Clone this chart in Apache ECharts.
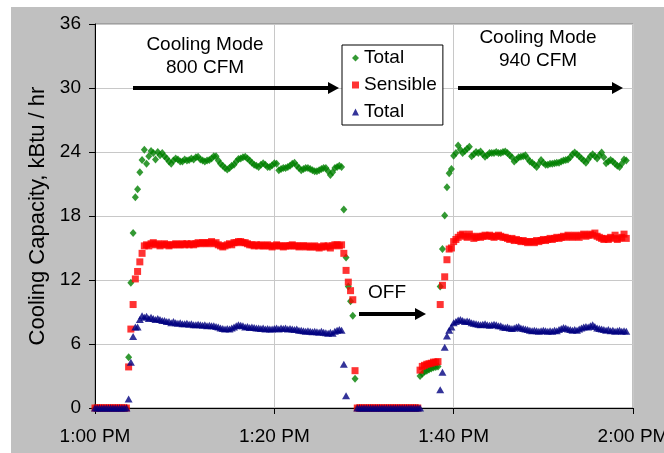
<!DOCTYPE html>
<html>
<head>
<meta charset="utf-8">
<script src="https://cdn.jsdelivr.net/npm/echarts@6/dist/echarts.min.js"></script>
<style>
html, body { margin: 0; padding: 0; background: #fff; }
#capacity-chart { width: 664px; height: 453px; }
</style>
</head>
<body>
<div id="capacity-chart"></div>
<script>
// logger wrote one sample every 15 s, x is minutes after 1:00 PM
var STEP_MIN = 0.25;
var timeLabels = ['1:00 PM', '1:20 PM', '1:40 PM', '2:00 PM'];
var legendNames = ['Total', 'Sensible', 'Total'];

var totalGreen = [
    0,0,0,0,0,0,0,0,0,0,0,0,0,0,0,
    4.75, 11.75, 16.4, 19.75, 20.5, 22.1, 23.25, 24.2,
    22.9, 23.6, 24.1, 23.9, 23.3, 24.0, 23.7, 23.9, 23.6, 23.4,
    23.1, 22.9, 23.2, 23.4, 23.3, 23.1, 23.1, 23.3, 23.2, 23.25,
    23.4, 23.3, 23.5, 23.55, 23.3, 23.2, 23.1, 23.2, 23.25, 23.4,
    23.6, 23.6, 23.2, 22.9, 22.7, 22.5, 22.35, 22.5, 22.7, 22.8,
    23.1, 23.35, 23.4, 23.5, 23.55, 23.4, 23.2, 23.0, 22.8, 22.7,
    22.6, 22.8, 22.95, 22.8, 22.6, 22.6, 22.75, 22.95, 22.9, 22.3,
    22.4, 22.5, 22.5, 22.6, 22.7, 22.9, 23.0, 22.7, 22.5, 22.3,
    22.4, 22.5, 22.5, 22.4, 22.3, 22.2, 22.2, 22.3, 22.4, 22.5,
    22.5, 22.2, 21.85, 22.1, 22.5, 22.6, 22.7, 22.6,
    18.6, 14.1, 11.4, 10.0, 8.65, 2.75,
    0,0,0,0,0,0,0,0,0,0,0,0,0,0,0,0,0,0,0,0,0,0,0,0,0,0,0,0,
    3.0, 3.2, 3.4, 3.5, 3.6, 3.7, 3.8, 3.85, 3.9,
    11.4, 14.9, 18.05, 20.7, 22.0, 22.4, 23.65,
    23.9, 24.6, 24.2, 23.9, 24.1, 24.3, 24.5, 23.6, 23.8, 24.0,
    23.9, 24.05, 23.8, 23.55, 23.7, 23.9, 23.9, 23.9, 24.0, 23.9,
    23.9, 24.0, 24.05, 23.9, 23.7, 23.5, 23.1, 23.3, 23.5, 23.55,
    23.6, 23.7, 23.4, 23.1, 23.0, 22.8, 22.6, 22.9, 23.25, 23.0,
    22.8, 22.8, 22.9, 22.9, 22.95, 23.0, 23.0, 23.1, 23.2, 23.25,
    23.3, 23.5, 23.8, 23.95, 23.8, 23.6, 23.4, 23.2, 23.0, 23.3,
    23.6, 23.8, 23.6, 23.4, 23.7, 23.95, 23.5, 22.95, 23.1, 23.25,
    23.1, 22.9, 22.7, 22.6, 22.9, 23.3, 23.2
];

var sensible = [
    0,0,0,0,0,0,0,0,0,0,0,0,0,0,0,
    3.85, 7.4, 9.7, 12.1, 12.8, 13.7, 14.5, 15.2,
    15.3, 15.2, 15.4, 15.5, 15.3, 15.4, 15.2, 15.3, 15.4, 15.3,
    15.2, 15.3, 15.3, 15.4, 15.3, 15.3, 15.4, 15.3, 15.4, 15.3,
    15.4, 15.3, 15.4, 15.5, 15.4, 15.5, 15.5, 15.4, 15.5, 15.6,
    15.4, 15.5, 15.3, 15.2, 15.1, 15.2, 15.3, 15.4, 15.3, 15.5,
    15.5, 15.6, 15.6, 15.5, 15.5, 15.4, 15.3, 15.3, 15.2, 15.3,
    15.2, 15.3, 15.2, 15.2, 15.3, 15.2, 15.1, 15.2, 15.3, 15.2,
    15.2, 15.1, 15.2, 15.2, 15.2, 15.3, 15.2, 15.2, 15.1, 15.2,
    15.2, 15.1, 15.2, 15.1, 15.1, 15.2, 15.1, 15.0, 15.1, 15.2,
    15.1, 15.2, 15.0, 15.2, 15.3, 15.3, 15.2, 15.3,
    14.5, 12.9, 11.8, 11.0, 10.15, 3.5,
    0,0,0,0,0,0,0,0,0,0,0,0,0,0,0,0,0,0,0,0,0,0,0,0,0,0,0,0,
    3.55, 3.9, 4.0, 4.1, 4.15, 4.2, 4.3, 4.3, 4.35,
    9.7, 11.5, 12.3, 13.9, 14.9, 15.0, 15.6,
    15.8, 16.0, 16.2, 16.3, 16.1, 16.0, 16.3, 16.1, 15.9, 16.0,
    16.1, 16.0, 16.1, 16.2, 16.1, 16.2, 16.1, 16.0, 16.1, 16.2,
    16.1, 16.0, 16.0, 15.9, 15.8, 15.9, 15.7, 15.8, 15.7, 15.6,
    15.7, 15.6, 15.5, 15.6, 15.6, 15.5, 15.7, 15.6, 15.7, 15.8,
    15.7, 15.8, 15.9, 15.8, 15.9, 16.0, 15.9, 16.0, 16.1, 16.0,
    16.2, 16.1, 16.0, 16.2, 16.1, 16.0, 16.2, 16.3, 16.1, 16.2,
    16.3, 16.2, 16.4, 16.1, 16.0, 15.9, 15.8, 15.9, 15.8, 16.0,
    15.9, 16.2, 15.8, 15.9, 16.0, 16.3, 15.9
];

var totalBlue = [
    0,0,0,0,0,0,0,0,0,0,0,0,0,0,0,
    0.85, 4.3, 6.7, 7.6, 7.6, 8.3, 8.65, 8.5,
    8.6, 8.4, 8.5, 8.4, 8.3, 8.4, 8.3, 8.2, 8.2, 8.1,
    8.1, 8.0, 8.1, 8.0, 7.95, 8.0, 7.9, 7.9, 7.95, 7.85,
    7.9, 7.8, 7.8, 7.85, 7.8, 7.75, 7.8, 7.7, 7.75, 7.7,
    7.7, 7.65, 7.6, 7.5, 7.45, 7.4, 7.45, 7.4, 7.5, 7.6,
    7.7, 7.8, 7.75, 7.7, 7.6, 7.65, 7.55, 7.6, 7.55, 7.5,
    7.5, 7.45, 7.5, 7.4, 7.45, 7.4, 7.4, 7.45, 7.5, 7.4,
    7.5, 7.45, 7.5, 7.4, 7.45, 7.4, 7.35, 7.4, 7.3, 7.3,
    7.25, 7.2, 7.25, 7.2, 7.15, 7.2, 7.15, 7.1, 7.2, 7.1,
    7.05, 7.0, 7.1, 7.0, 7.2, 7.3, 7.35, 7.3,
    4.1, 1.15, null, null, null, null,
    0,0,0,0,0,0,0,0,0,0,0,0,0,0,0,0,0,0,0,0,0,0,0,0,0,0,0,0,0,
    null, null, null, null, null, null, null, null,
    1.7, 3.35, 5.7, 6.75, 7.3, 7.6, 8.0,
    8.1, 8.25, 8.3, 8.2, 8.1, 8.15, 8.1, 8.0, 7.95, 7.9,
    7.85, 7.8, 7.85, 7.9, 7.8, 7.75, 7.8, 7.85, 7.8, 7.7,
    7.7, 7.6, 7.55, 7.6, 7.5, 7.45, 7.5, 7.6, 7.65, 7.5,
    7.45, 7.4, 7.35, 7.3, 7.25, 7.3, 7.25, 7.2, 7.25, 7.3,
    7.25, 7.2, 7.25, 7.2, 7.3, 7.25, 7.35, 7.45, 7.55, 7.5,
    7.4, 7.35, 7.3, 7.35, 7.3, 7.4, 7.5, 7.6, 7.65, 7.6,
    7.7, 7.8, 7.65, 7.5, 7.45, 7.4, 7.35, 7.3, 7.35, 7.25,
    7.3, 7.2, 7.25, 7.3, 7.2, 7.25, 7.2
];

if (totalGreen.length !== sensible.length || sensible.length !== totalBlue.length) {
    throw new Error('length mismatch ' + totalGreen.length + ' ' + sensible.length + ' ' + totalBlue.length);
}

function toPoints(values) {
    var pts = [];
    for (var i = 0; i < values.length; i++) {
        if (values[i] !== null) pts.push([i * STEP_MIN, values[i]]);
    }
    return pts;
}

var FONT = 'Liberation Sans';

// annotation arrows sit on top of the 30 gridline, so z goes on every piece
function arrowLine(x1, x2, y) {
    return { type: 'line', z: 100, shape: { x1: x1, y1: y, x2: x2 - 8, y2: y }, style: { stroke: '#000', lineWidth: 4 } };
}
function arrowHead(x2, y) {
    return { type: 'polygon', z: 100, shape: { points: [[x2 - 11, y - 6], [x2, y], [x2 - 11, y + 6]] }, style: { fill: '#000' } };
}

function label(text, x, y) {
    return {
        type: 'text', x: x, y: y, z: 100,
        style: { text: text, fill: '#000', font: '19px "' + FONT + '"', align: 'center', verticalAlign: 'middle' }
    };
}

var chart = echarts.init(document.getElementById('capacity-chart'));

var option = {
    animation: false,
    backgroundColor: '#c0c0c0',
    textStyle: { fontFamily: FONT },
    grid: {
        left: 95, right: 31, top: 24, bottom: 45,
        outerBoundsMode: 'none', containLabel: false,
        show: true, backgroundColor: '#fff', borderColor: '#808080', borderWidth: 1
    },
    legend: {
        orient: 'vertical',
        left: 342, top: 45,
        padding: [3, 6, 3, 10],
        itemWidth: 7, itemHeight: 7,
        itemGap: 7,
        backgroundColor: '#fff',
        borderColor: '#000', borderWidth: 1,
        textStyle: { fontSize: 19, color: '#000', lineHeight: 20 },
        formatter: function (name) { return name.replace(/ \(.*\)$/, ''); },
        data: ['Total (green)', 'Sensible', 'Total (blue)']
    },
    xAxis: {
        type: 'value', min: 0, max: 60, interval: 20,
        axisLine: { lineStyle: { color: '#000', width: 1 } },
        axisTick: { show: true, length: 6, lineStyle: { color: '#000' } },
        axisLabel: {
            fontSize: 19, color: '#000', margin: 19,
            alignMinLabel: 'center', alignMaxLabel: 'center',
            formatter: function (v) { return timeLabels[Math.round(v / 20)]; }
        },
        splitLine: { show: true, lineStyle: { color: '#c8c8c8' } }
    },
    yAxis: {
        type: 'value', min: 0, max: 36, interval: 6,
        name: 'Cooling Capacity, kBtu / hr',
        nameLocation: 'middle', nameRotate: 90, nameGap: 44,
        nameTextStyle: { fontSize: 22, color: '#000' },
        axisLine: { show: true, lineStyle: { color: '#000', width: 1 } },
        axisTick: { show: true, length: 6, lineStyle: { color: '#000' } },
        axisLabel: { fontSize: 19, color: '#000', margin: 14 },
        splitLine: { show: true, lineStyle: { color: '#c8c8c8' } }
    },
    series: [
        {
            name: 'Total (green)', type: 'scatter',
            symbol: 'diamond', symbolSize: [7, 8],
            itemStyle: { color: '#008000' },
            data: toPoints(totalGreen)
        },
        {
            name: 'Sensible', type: 'scatter',
            symbol: 'rect', symbolSize: 7,
            itemStyle: { color: '#ff0000' },
            data: toPoints(sensible)
        },
        {
            name: 'Total (blue)', type: 'scatter',
            symbol: 'triangle', symbolSize: [8, 7],
            itemStyle: { color: '#000080' },
            data: toPoints(totalBlue)
        }
    ],
    graphic: [
        { type: 'rect', shape: { x: 0, y: 0, width: 11, height: 453 }, style: { fill: '#fff' }, silent: true },
        { type: 'rect', shape: { x: 0, y: 0, width: 664, height: 7 }, style: { fill: '#fff' }, silent: true },
        label('Cooling Mode', 205, 45),
        label('800 CFM', 205, 68),
        arrowLine(133, 339, 88), arrowHead(339, 88),
        label('Cooling Mode', 538, 38),
        label('940 CFM', 538, 61),
        arrowLine(458, 623, 88), arrowHead(623, 88),
        label('OFF', 387, 293),
        arrowLine(359, 426, 314), arrowHead(426, 314)
    ]
};

chart.setOption(option);
</script>
</body>
</html>
